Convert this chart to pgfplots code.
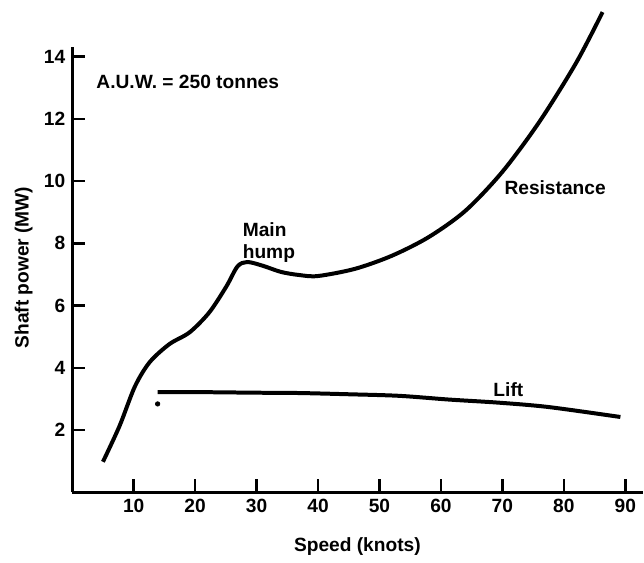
\documentclass[border=0pt]{standalone}
\usepackage{pgfplots}
\pgfplotsset{compat=1.18}
\usepackage{fontspec}
\setmainfont{Liberation Sans}
\begin{document}
\begin{tikzpicture}
\begin{axis}[
    scale only axis,
    width=285.8pt, height=223pt,
    xmin=0, xmax=92.8,
    ymin=0, ymax=14.3,
    axis x line=bottom, axis y line=left,
    axis line style={-, line width=1.5pt},
    xtick={10,20,...,90},
    ytick={2,4,...,14},
    major tick length=6.5pt,
    tick style={line width=1.2pt, black},
    tick align=inside,
    clip=false,
    font=\fontsize{9.6}{11}\selectfont\bfseries,
    /pgf/number format/assume math mode=true,
    xlabel={Speed (knots)},
    ylabel={Shaft power (MW)},
    xlabel style={at={(axis description cs:0.5,-0.122)}, anchor=center},
    ylabel style={at={(axis description cs:-0.085,0.505)}, anchor=center},
]
% invisible corners, to give the page the reference's proportions
\path (axis cs:-11.75,-2.13) (axis cs:92.8,15.82);

% resistance
\addplot[smooth, line width=2pt, black] coordinates {
    (5,0.98) (7.7,2.13) (10.2,3.4) (12.6,4.18) (15.8,4.76) (19.1,5.14)
    (22.3,5.78) (25.1,6.62) (26.9,7.26) (28.5,7.4) (31,7.28) (34,7.08)
    (37,6.98) (40,6.95) (46,7.18) (52,7.6) (58,8.2) (64,9.05)
    (70,10.3) (76,11.9) (82,13.8) (86.3,15.43)
};
% lift
\addplot[smooth, line width=2pt, black] coordinates {
    (13.9,3.22) (20,3.22) (30,3.2) (36.9,3.19) (45,3.15) (53.2,3.1)
    (61.3,2.98) (69.4,2.88) (77.5,2.74) (89.2,2.42)
};
% stray dot of the scan
\addplot[only marks, mark=*, mark size=1.1pt, black] coordinates {(13.9,2.84)};

\node[anchor=west] at (axis cs:2.8,13.2) {A.U.W. = 250 tonnes};
\node[anchor=west, align=left, inner sep=0pt] at (axis cs:27.7,8.02) {Main\\hump};
\node[anchor=west] at (axis cs:69.2,9.79) {Resistance};
\node[anchor=west] at (axis cs:67.4,3.29) {Lift};
\end{axis}
\end{tikzpicture}
\end{document}
